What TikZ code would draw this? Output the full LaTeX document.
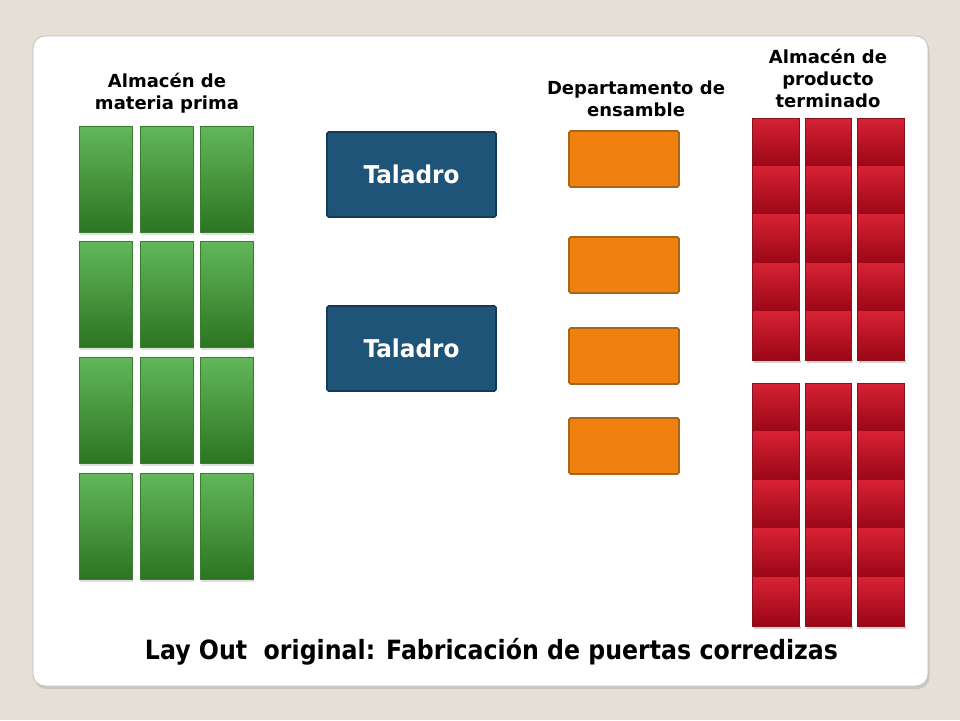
\documentclass[tikz,border=0pt]{standalone}
\usepackage{fontspec}
\setmainfont{DejaVu Sans}
\usetikzlibrary{shadows}
\definecolor{bgc}{HTML}{E5DFD6}
\definecolor{gtop}{HTML}{62B75A}
\definecolor{gbot}{HTML}{2C7522}
\definecolor{gline}{HTML}{3A7D31}
\definecolor{tfill}{HTML}{1F5479}
\definecolor{tline}{HTML}{133A57}
\definecolor{ofill}{HTML}{F0800F}
\definecolor{oline}{HTML}{A8661C}
\definecolor{rtop}{HTML}{D62234}
\definecolor{rbot}{HTML}{9A0616}
\definecolor{rline}{HTML}{8A1020}
\tikzset{
  panel/.style={fill=white, draw=black!25, rounded corners=12pt, line width=0.8pt,
    drop shadow={opacity=0.25, shadow xshift=1.5pt, shadow yshift=-3pt}},
  gbox/.style={anchor=north west, inner sep=0pt, outer sep=0pt, minimum width=53pt, minimum height=106pt,
    draw=gline, line width=0.6pt, top color=gtop, bottom color=gbot,
    drop shadow={opacity=0.25, shadow xshift=1pt, shadow yshift=-2.5pt}},
  tbox/.style={anchor=north west, inner sep=0pt, outer sep=0pt, minimum width=169pt, minimum height=85pt,
    fill=tfill, draw=tline, line width=1.6pt, rounded corners=1.5pt},
  obox/.style={anchor=north west, inner sep=0pt, outer sep=0pt, minimum width=110pt, minimum height=56pt,
    fill=ofill, draw=oline, line width=1.6pt, rounded corners=1.5pt},
  rbox/.style={anchor=north west, inner sep=0pt, outer sep=0pt, minimum height=48.6pt,
    top color=rtop, bottom color=rbot},
  rcol/.style={draw=rline, line width=0.5pt},
  lbl/.style={font=\bfseries\fontsize{18}{22}\selectfont, align=center, inner sep=0pt, text=black},
}
\begin{document}
\begin{tikzpicture}[x=1pt,y=-1pt]
\useasboundingbox (0,0) rectangle (960,720);
\fill[bgc] (0,0) rectangle (960,720);
\path[panel] (33,36) rectangle (928,686);

% green raw material storage
\foreach \c/\x in {1/79,2/140,3/200}{
  \foreach \r/\y in {1/126,2/241,3/357,4/473}{
    \node[gbox] (g\r\c) at (\x,\y) {};
  }
}

% drills
\node[tbox] (t1) at (327,132) {};
\node[tbox] (t2) at (327,306) {};
\node[anchor=base, text=white, font=\bfseries\fontsize{24.5}{26}\selectfont, inner sep=0pt] (t1l) at (411.5,183) {\resizebox{96pt}{\height}{Taladro}};
\node[anchor=base, text=white, font=\bfseries\fontsize{24.5}{26}\selectfont, inner sep=0pt] (t2l) at (411.5,357) {\resizebox{96pt}{\height}{Taladro}};

% assembly
\foreach \i/\y in {1/131,2/237,3/328,4/418}{
  \node[obox] (o\i) at (569,\y) {};
}

% finished product storage
\foreach \c/\x/\w in {1/752/47,2/805/46,3/857/47}{
  \fill[black, opacity=0.18] (\x+1.5,360) rectangle (\x+\w+1.5,363);
  \fill[black, opacity=0.18] (\x+1.5,626) rectangle (\x+\w+1.5,629);
  \foreach \r in {0,...,4}{
    \node[rbox, minimum width=\w pt] (ra\r\c) at (\x,118+48.4*\r) {};
    \node[rbox, minimum width=\w pt] (rb\r\c) at (\x,383+48.6*\r) {};
  }
  \draw[rcol] (ra0\c.north west) rectangle (ra4\c.south east);
  \draw[rcol] (rb0\c.north west) rectangle (rb4\c.south east);
}

% labels
\node[lbl] (lg) at (167,93) {Almacén de\\materia prima};
\node[lbl] (lo) at (636,99) {Departamento de\\ensamble};
\node[lbl] (lr) at (828,78) {Almacén de\\producto\\terminado};

\node[anchor=base, inner sep=0pt, font=\bfseries\fontsize{26.5}{28}\selectfont] (title) at (491.5,659)
  {\resizebox{693pt}{\height}{Lay Out\ \ original: Fabricación de puertas corredizas}};
\end{tikzpicture}
\end{document}
